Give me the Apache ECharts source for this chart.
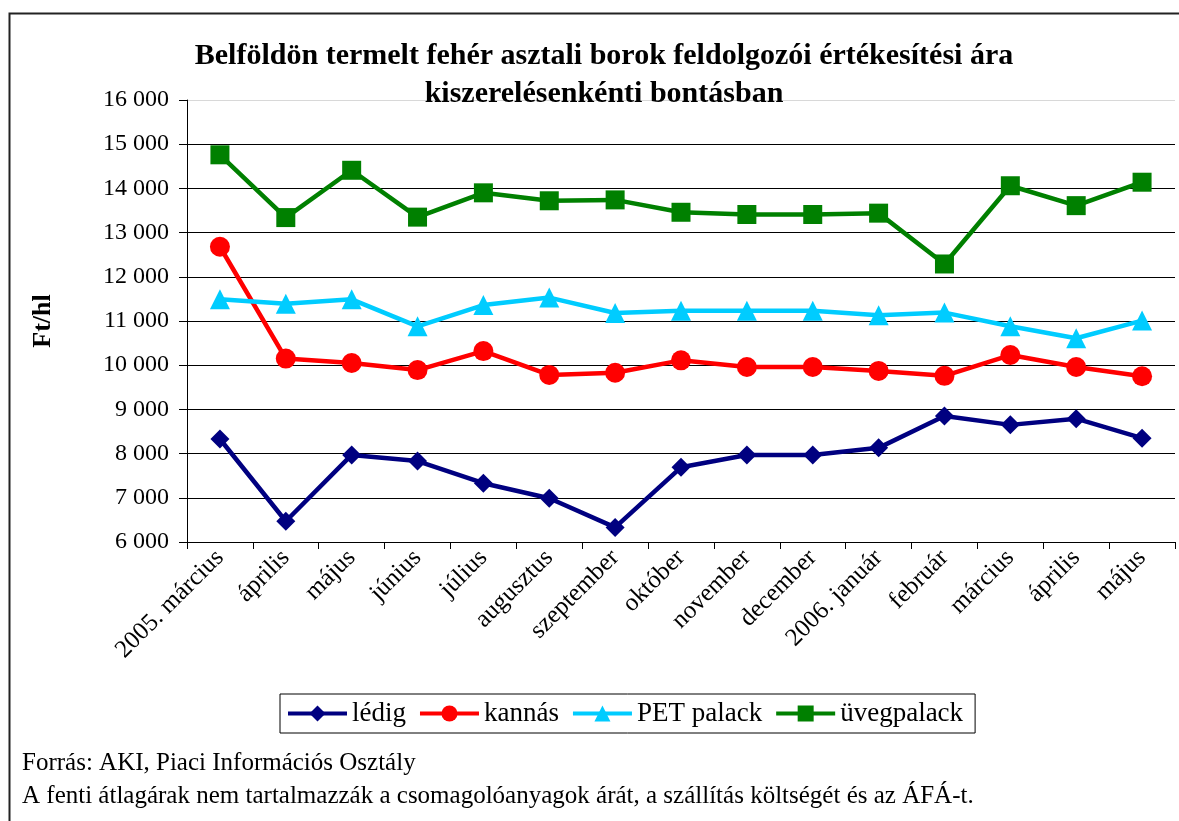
<!DOCTYPE html>
<html>
<head>
<meta charset="utf-8">
<script src="https://cdn.jsdelivr.net/npm/echarts@6/dist/echarts.min.js"></script>
<style>
  html, body { margin: 0; padding: 0; background: #fff; }
  #myChart { width: 1179px; height: 821px; }
</style>
</head>
<body>
<div id="myChart"></div>
<script>
// categories (months)
const months = ['2005. március', 'április', 'május', 'június', 'július', 'augusztus', 'szeptember',
  'október', 'november', 'december', '2006. január', 'február', 'március', 'április', 'május']

// Ft/hl values
const ledig = [8330, 6470, 7970, 7830, 7330, 6990, 6330, 7690, 7970, 7970, 8130, 8850, 8650, 8790, 8350]
const kannas = [12680, 10150, 10050, 9890, 10320, 9780, 9830, 10110, 9960, 9960, 9870, 9760, 10230, 9960, 9750]
const petPalack = [11490, 11390, 11490, 10880, 11360, 11530, 11180, 11230, 11230, 11230, 11130, 11190, 10880, 10610, 11010]
const uvegpalack = [14760, 13340, 14410, 13350, 13900, 13720, 13740, 13460, 13410, 13410, 13440, 12290, 14060, 13610, 14140]

const serif = '"Liberation Serif", "DejaVu Serif", serif'

let myChart = echarts.init(document.getElementById('myChart'))

// gridline colours from 6000 up to 16000 (top one is light, like the plot border)
const gridColors = ['#000', '#000', '#000', '#000', '#000', '#000', '#000', '#000', '#000', '#000', '#d8d8d8']

function makeSeries(name, data, color, symbol, size) {
  return {
    name: name,
    type: 'line',
    data: data,
    symbol: symbol,
    symbolSize: size,
    itemStyle: { color: color },
    lineStyle: { color: color, width: 4.5 },
    animation: false
  }
}

myChart.setOption({
  animation: false,
  textStyle: { fontFamily: serif },
  title: {
    text: 'Belföldön termelt fehér asztali borok feldolgozói értékesítési ára\nkiszerelésenkénti bontásban',
    left: 599,
    top: 32,
    textAlign: 'center',
    textStyle: { fontFamily: serif, fontSize: 30, fontWeight: 'bold', color: '#000', lineHeight: 38 }
  },
  grid: { left: 187, right: 4, top: 100, bottom: 279, containLabel: false },
  legend: {
    left: 280,
    top: 694,
    padding: [6, 12, 6, 6],
    borderColor: '#000',
    borderWidth: 1,
    itemWidth: 59,
    itemHeight: 20,
    itemGap: 12,
    lineStyle: { width: 4 },
    textStyle: { fontFamily: serif, fontSize: 27, color: '#000' },
    data: ['lédig', 'kannás', 'PET palack', 'üvegpalack']
  },
  xAxis: {
    type: 'category',
    data: months,
    boundaryGap: true,
    axisLine: { lineStyle: { color: '#000', width: 1 } },
    axisTick: { show: true, length: 7, lineStyle: { color: '#000' } },
    axisLabel: { rotate: 45, fontFamily: serif, fontSize: 25, color: '#000', margin: 12, interval: 0 }
  },
  yAxis: {
    type: 'value',
    min: 6000,
    max: 16000,
    interval: 1000,
    name: 'Ft/hl',
    nameLocation: 'middle',
    nameRotate: 90,
    nameGap: 131,
    nameTextStyle: { fontFamily: serif, fontSize: 26, fontWeight: 'bold', color: '#000' },
    axisLine: { show: true, lineStyle: { color: '#000', width: 1 } },
    axisTick: { show: true, length: 8, lineStyle: { color: '#000' } },
    splitLine: { show: true, lineStyle: { color: gridColors, width: 1 } },
    axisLabel: {
      fontFamily: serif, fontSize: 24, color: '#000', margin: 18,
      formatter: function (v) { return String(v).replace(/\B(?=(\d{3})+(?!\d))/g, ' ') }
    }
  },
  graphic: [
    { type: 'rect', left: 7, top: 11, shape: { width: 1200, height: 840 }, style: { fill: null, stroke: '#222', lineWidth: 2 }, z: 0, silent: true },
    { type: 'text', left: 22, top: 751, style: { text: 'Forrás: AKI, Piaci Információs Osztály', font: '25px ' + serif, fill: '#000' } },
    { type: 'text', left: 22, top: 784, style: { text: 'A fenti átlagárak nem tartalmazzák a csomagolóanyagok árát, a szállítás költségét és az ÁFÁ-t.', font: '25px ' + serif, fill: '#000' } }
  ],
  series: [
    makeSeries('lédig', ledig, '#000080', 'diamond', 19),
    makeSeries('kannás', kannas, '#ff0000', 'circle', 20),
    makeSeries('PET palack', petPalack, '#00ccff', 'triangle', 20),
    makeSeries('üvegpalack', uvegpalack, '#008000', 'rect', 19)
  ]
})
</script>
</body>
</html>
